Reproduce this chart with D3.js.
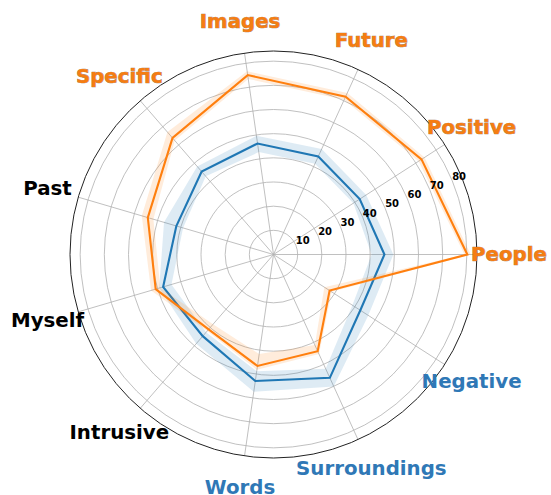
<!DOCTYPE html>
<html>
<head>
<meta charset="utf-8">
<script src="https://cdn.jsdelivr.net/npm/d3@7"></script>
<style>
  html, body { margin: 0; padding: 0; background: #fff; }
  svg { display: block; }
  text { font-family: "DejaVu Sans", sans-serif; font-weight: bold; }
</style>
</head>
<body>
<div id="chart"></div>
<script>
// Categories, in counter-clockwise order starting at 3 o'clock
const categories = ["People", "Positive", "Future", "Images", "Specific", "Past",
                    "Myself", "Intrusive", "Words", "Surroundings", "Negative"];

// Group A (blue): mean and interval bounds
const groupAMean  = [45.9, 42.4, 44.6, 46.4, 45.4, 41.9, 47.6, 44.7, 52.9, 56.1, 42.7];
const groupALower = [40.6, 39.3, 41.3, 42.8, 42.8, 39.0, 44.0, 42.6, 48.8, 52.0, 38.8];
const groupAUpper = [49.6, 45.6, 48.0, 49.6, 48.2, 47.2, 49.3, 48.8, 57.4, 60.0, 46.6];

// Group B (orange): mean and interval bounds
const groupBMean  = [80.2, 72.8, 71.8, 75.0, 63.8, 54.2, 50.8, 41.0, 46.6, 44.0, 27.6];
const groupBLower = [79.0, 71.4, 70.4, 73.4, 62.4, 51.8, 48.8, 38.2, 41.6, 41.2, 25.0];
const groupBUpper = [81.6, 74.3, 73.5, 76.6, 67.0, 56.8, 52.8, 41.9, 48.2, 45.3, 28.6];

// Which group is higher on each category ("B", "A" or "none")
const higherGroup = ["B", "B", "B", "B", "B", "none", "none", "none", "A", "A", "A"];

// Radial ticks
const radialTicks = [10, 20, 30, 40, 50, 60, 70, 80];
const radialMax = 84.2;

const width = 551, height = 495;
const cx = 273.5, cy = 254.5;
const outerR = 203.5;
const labelR = 235.5;

const colorA = "#1f77b4";
const colorB = "#ff7f0e";
const labelColor = { A: "#2f78b6", B: "#f57d12", none: "#000000" };

const svg = d3.select("#chart").append("svg")
  .attr("width", width).attr("height", height);

const g = svg.append("g").attr("transform", `translate(${cx},${cy})`);

const r = d3.scaleLinear().domain([0, radialMax]).range([0, outerR]);
// d3 angles run clockwise from 12 o'clock; categories start at 3 o'clock and go counter-clockwise
const step = 2 * Math.PI / categories.length;
const angle = i => Math.PI / 2 - i * step;

// Grid rings
g.append("g").selectAll("circle").data(radialTicks).join("circle")
  .attr("r", d => r(d))
  .attr("fill", "none")
  .attr("stroke", "#b0b0b0")
  .attr("stroke-width", 0.8);

// Spokes
g.append("g").selectAll("line").data(categories).join("line")
  .attr("x1", 0).attr("y1", 0)
  .attr("x2", (d, i) => outerR * Math.sin(angle(i)))
  .attr("y2", (d, i) => -outerR * Math.cos(angle(i)))
  .attr("stroke", "#b0b0b0")
  .attr("stroke-width", 0.8);

// Outer frame
g.append("circle")
  .attr("r", outerR)
  .attr("fill", "none")
  .attr("stroke", "#222")
  .attr("stroke-width", 1);

const radial = d3.lineRadial()
  .angle((d, i) => angle(i))
  .radius(d => r(d))
  .curve(d3.curveLinearClosed);

function drawSeries(mean, lower, upper, color) {
  g.append("path")
    .attr("d", radial(upper) + radial(lower))
    .attr("fill", color)
    .attr("fill-opacity", 0.15)
    .attr("fill-rule", "evenodd")
    .attr("stroke", "none");
  g.append("path")
    .attr("d", radial(mean))
    .attr("fill", "none")
    .attr("stroke", color)
    .attr("stroke-width", 2.1)
    .attr("stroke-linejoin", "miter");
}

drawSeries(groupAMean, groupALower, groupAUpper, colorA);
drawSeries(groupBMean, groupBLower, groupBUpper, colorB);

// Radial tick labels along 22.5 degrees
const tickAngle = Math.PI / 8;
g.append("g").selectAll("text").data(radialTicks).join("text")
  .attr("x", d => r(d) * Math.cos(tickAngle))
  .attr("y", d => -r(d) * Math.sin(tickAngle) - 1)
  .attr("text-anchor", "start")
  .attr("font-size", 10)
  .attr("fill", "#000")
  .text(d => d);

// Category labels
g.append("g").selectAll("text").data(categories).join("text")
  .attr("x", (d, i) => labelR * Math.sin(angle(i)))
  .attr("y", (d, i) => -labelR * Math.cos(angle(i)))
  .attr("text-anchor", "middle")
  .attr("dominant-baseline", "central")
  .attr("font-size", 19.8)
  .attr("fill", (d, i) => labelColor[higherGroup[i]])
  .attr("stroke", (d, i) => higherGroup[i] === "B" ? "#7a5030" : "none")
  .attr("stroke-width", 0.7)
  .attr("stroke-opacity", 0.75)
  .attr("paint-order", "stroke")
  .text(d => d);
</script>
</body>
</html>
